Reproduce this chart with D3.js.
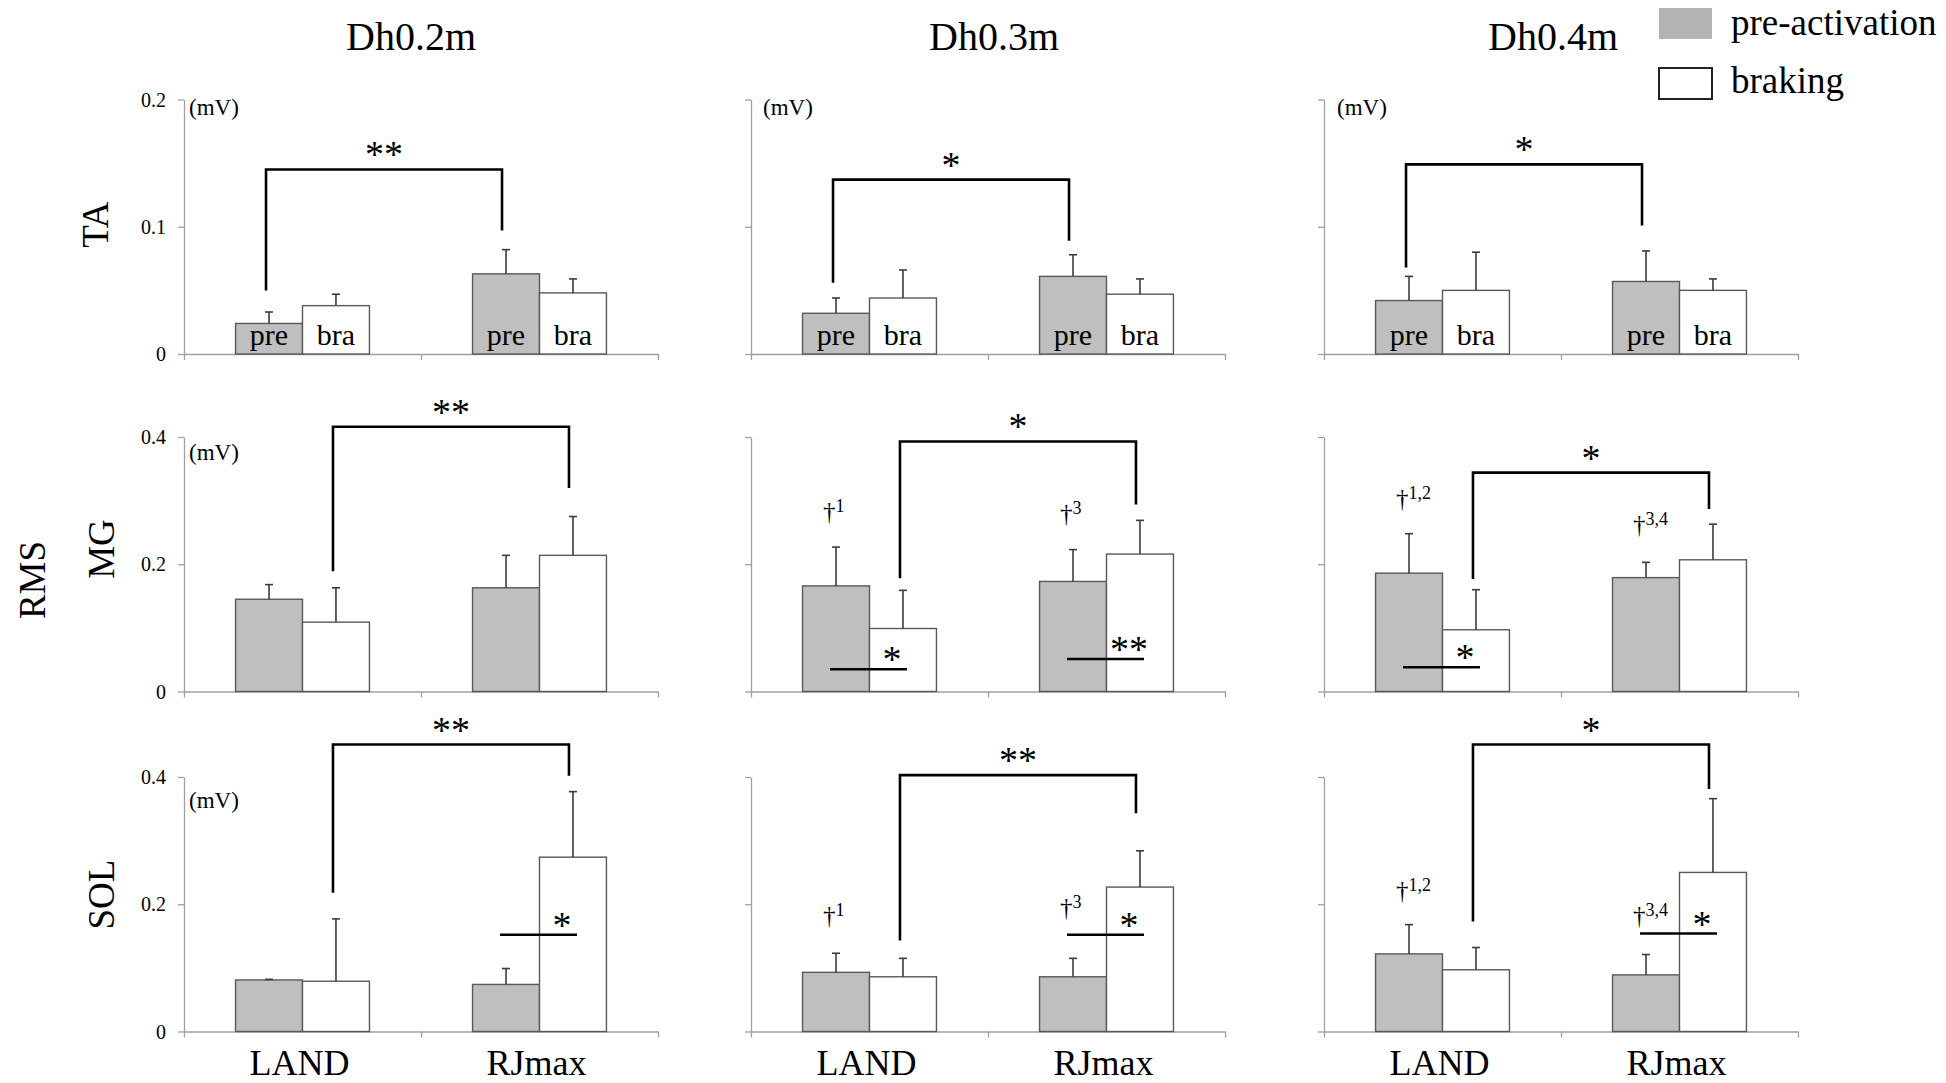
<!DOCTYPE html>
<html>
<head>
<meta charset="utf-8">
<script src="https://cdn.jsdelivr.net/npm/d3@7"></script>
<style>
  body { margin: 0; background: #fff; }
  text { font-family: "Liberation Serif", "Times New Roman", serif; fill: #000; }
</style>
</head>
<body>
<svg id="chart" width="1946" height="1083"></svg>
<script>
// ---- data -------------------------------------------------------------
const heights = ["Dh0.2m", "Dh0.3m", "Dh0.4m"];
const muscles = ["TA", "MG", "SOL"];
const conditions = ["LAND", "RJmax"];
const phases = ["pre-activation", "braking"];
const phaseTags = ["pre", "bra"];
const yMax = [0.2, 0.4, 0.4];
const yTicks = [[0, 0.1, 0.2], [0, 0.2, 0.4], [0, 0.2, 0.4]];
const yTickLabels = [["0", "0.1", "0.2"], ["0", "0.2", "0.4"], ["0", "0.2", "0.4"]];

// mean RMS (mV), one row per drop height: [LAND pre, LAND bra, RJmax pre, RJmax bra]
const taMean  = [[0.024, 0.038, 0.063, 0.048], [0.032, 0.044, 0.061, 0.047], [0.042, 0.050, 0.057, 0.050]];
const taSD    = [[0.009, 0.009, 0.019, 0.011], [0.012, 0.022, 0.017, 0.012], [0.019, 0.030, 0.024, 0.009]];
const mgMean  = [[0.145, 0.109, 0.163, 0.214], [0.166, 0.099, 0.173, 0.216], [0.186, 0.097, 0.179, 0.207]];
const mgSD    = [[0.023, 0.054, 0.051, 0.061], [0.061, 0.060, 0.050, 0.053], [0.062, 0.063, 0.024, 0.056]];
const solMean = [[0.081, 0.079, 0.074, 0.274], [0.093, 0.086, 0.086, 0.227], [0.122, 0.097, 0.089, 0.250]];
const solSD   = [[0.001, 0.098, 0.025, 0.103], [0.030, 0.029, 0.029, 0.057], [0.046, 0.035, 0.032, 0.116]];
const means = [taMean, mgMean, solMean];
const sds = [taSD, mgSD, solSD];

// LAND vs RJmax brackets: phase compared, bar height, left / right leg ends (mV), mark
const taBrackets  = [{ phase: 0, top: 0.145, left: 0.050, right: 0.097, mark: "**" },
                     { phase: 0, top: 0.137, left: 0.056, right: 0.089, mark: "*" },
                     { phase: 0, top: 0.149, left: 0.068, right: 0.101, mark: "*" }];
const mgBrackets  = [{ phase: 1, top: 0.416, left: 0.189, right: 0.320, mark: "**" },
                     { phase: 1, top: 0.393, left: 0.178, right: 0.294, mark: "*" },
                     { phase: 1, top: 0.344, left: 0.177, right: 0.287, mark: "*" }];
const solBrackets = [{ phase: 1, top: 0.451, left: 0.218, right: 0.402, mark: "**" },
                     { phase: 1, top: 0.403, left: 0.143, right: 0.343, mark: "**" },
                     { phase: 1, top: 0.451, left: 0.173, right: 0.381, mark: "*" }];
const brackets = [taBrackets, mgBrackets, solBrackets];

// pre vs braking within a condition: muscle row, height column, condition, line level (mV), mark
const phasePairs = [
  { row: 1, col: 1, cond: 0, level: 0.035, mark: "*" },
  { row: 1, col: 1, cond: 1, level: 0.051, mark: "**" },
  { row: 1, col: 2, cond: 0, level: 0.038, mark: "*" },
  { row: 2, col: 0, cond: 1, level: 0.152, mark: "*" },
  { row: 2, col: 1, cond: 1, level: 0.152, mark: "*" },
  { row: 2, col: 2, cond: 1, level: 0.154, mark: "*" }
];

// dagger notes over the pre-activation bars
const daggers = [
  { row: 1, col: 1, cond: 0, level: 0.280, note: "1" },
  { row: 1, col: 1, cond: 1, level: 0.278, note: "3" },
  { row: 1, col: 2, cond: 0, level: 0.301, note: "1,2" },
  { row: 1, col: 2, cond: 1, level: 0.260, note: "3,4" },
  { row: 2, col: 1, cond: 0, level: 0.180, note: "1" },
  { row: 2, col: 1, cond: 1, level: 0.193, note: "3" },
  { row: 2, col: 2, cond: 0, level: 0.219, note: "1,2" },
  { row: 2, col: 2, cond: 1, level: 0.180, note: "3,4" }
];

// ---- layout -----------------------------------------------------------
const colX = [184, 751, 1324];
const panelW = 474;
const rowTop = [99.5, 437, 777];
const panelH = 254.5;
const unitDy = [7, 15, 23];
const titleShift = [-10, 6, -8];

const svg = d3.select("#chart");
svg.append("rect").attr("width", 1946).attr("height", 1083).attr("fill", "#fff");

const AXIS = "#a0a0a0";
const STAR = 38;
const panels = {};

muscles.forEach((m, r) => {
  heights.forEach((h, c) => {
    const x0 = colX[c], top = rowTop[r], zero = top + panelH;
    const x = d3.scaleBand().domain(conditions).range([x0, x0 + panelW]);
    const xs = d3.scaleBand().domain(phases).range([0, x.bandwidth()]).paddingOuter(0.77);
    const y = d3.scaleLinear().domain([0, yMax[r]]).range([zero, top]);
    panels[r + "-" + c] = { x, xs, y };
    const g = svg.append("g");

    // y axis
    const ya = g.append("g").attr("transform", `translate(${x0},0)`)
      .call(d3.axisLeft(y).tickValues(yTicks[r]).tickSize(6).tickSizeOuter(0)
        .tickFormat((d, i) => c === 0 ? yTickLabels[r][i] : ""));
    ya.selectAll("path, line").attr("stroke", AXIS).attr("stroke-width", 1.3);
    ya.selectAll("text").attr("font-size", 20).attr("font-family", "Liberation Serif")
      .attr("fill", "#000").attr("x", -18).attr("dy", "0.33em");

    // x axis with ticks at the band edges
    const edge = d3.scaleLinear().domain([0, conditions.length]).range([x0, x0 + panelW]);
    const xa = g.append("g").attr("transform", `translate(0,${zero})`)
      .call(d3.axisBottom(edge).tickValues(d3.range(conditions.length + 1)).tickSize(6)
        .tickSizeOuter(0).tickFormat(""));
    xa.selectAll("path, line").attr("stroke", AXIS).attr("stroke-width", 1.3);

    // unit
    if (r === 0 || c === 0) {
      g.append("text").attr("x", x0 + (c === 0 ? 5 : c === 1 ? 12 : 13))
        .attr("y", top + unitDy[r]).attr("dy", "0.35em")
        .attr("font-size", 23).text("(mV)");
    }

    // bars
    const rows = [];
    conditions.forEach((cond, i) => phases.forEach((ph, j) => {
      rows.push({ cond, ph, j, mean: means[r][c][i * 2 + j], sd: sds[r][c][i * 2 + j] });
    }));
    g.selectAll("rect.bar").data(rows).join("rect").attr("class", "bar")
      .attr("x", d => x(d.cond) + xs(d.ph))
      .attr("y", d => y(d.mean))
      .attr("width", xs.bandwidth())
      .attr("height", d => zero - y(d.mean))
      .attr("fill", d => d.j === 0 ? "#bfbfbf" : "#ffffff")
      .attr("stroke", "#595959").attr("stroke-width", 1.4);

    // error bars (upper side)
    const cx = d => x(d.cond) + xs(d.ph) + xs.bandwidth() / 2;
    g.selectAll("line.err").data(rows).join("line").attr("class", "err")
      .attr("x1", cx).attr("x2", cx)
      .attr("y1", d => y(d.mean)).attr("y2", d => y(d.mean + d.sd))
      .attr("stroke", "#3c3c3c").attr("stroke-width", 1.6);
    g.selectAll("line.cap").data(rows).join("line").attr("class", "cap")
      .attr("x1", d => cx(d) - 4).attr("x2", d => cx(d) + 4)
      .attr("y1", d => y(d.mean + d.sd)).attr("y2", d => y(d.mean + d.sd))
      .attr("stroke", "#3c3c3c").attr("stroke-width", 1.6);

    // phase tags inside the TA bars
    if (r === 0) {
      g.selectAll("text.tag").data(rows).join("text").attr("class", "tag")
        .attr("x", cx).attr("y", zero - 9)
        .attr("text-anchor", "middle").attr("font-size", 30)
        .text(d => phaseTags[d.j]);
    }

    // LAND vs RJmax bracket
    const b = brackets[r][c];
    const ph = phases[b.phase];
    const xl = x(conditions[0]) + xs(ph) + xs.bandwidth() / 2 - 3;
    const xr = x(conditions[1]) + xs(ph) + xs.bandwidth() / 2 - 4;
    g.append("path")
      .attr("d", `M${xl},${y(b.left)}V${y(b.top)}H${xr}V${y(b.right)}`)
      .attr("fill", "none").attr("stroke", "#000").attr("stroke-width", 2.6);
    g.append("text").attr("x", (xl + xr) / 2).attr("y", y(b.top) - 2)
      .attr("text-anchor", "middle").attr("font-size", STAR).text(b.mark);
  });
});

// pre vs braking lines
phasePairs.forEach(p => {
  const { x, xs, y } = panels[p.row + "-" + p.col];
  const cond = conditions[p.cond];
  const preC = x(cond) + xs(phases[0]) + xs.bandwidth() / 2;
  const braC = x(cond) + xs(phases[1]) + xs.bandwidth() / 2;
  svg.append("line")
    .attr("x1", preC - 6).attr("x2", braC + 4)
    .attr("y1", y(p.level)).attr("y2", y(p.level))
    .attr("stroke", "#000").attr("stroke-width", 2.6);
  svg.append("text").attr("x", braC - 11).attr("y", y(p.level) + 3)
    .attr("text-anchor", "middle").attr("font-size", STAR).text(p.mark);
});

// dagger notes
daggers.forEach(d => {
  const { x, xs, y } = panels[d.row + "-" + d.col];
  const preC = x(conditions[d.cond]) + xs(phases[0]) + xs.bandwidth() / 2;
  const t = svg.append("text").attr("x", preC - 13).attr("y", y(d.level) + 7);
  t.append("tspan").attr("font-size", 25).text("\u2020");
  t.append("tspan").attr("font-size", 18).attr("dy", -8).text(d.note);
});

// column titles
heights.forEach((h, c) => {
  svg.append("text").attr("x", colX[c] + panelW / 2 + titleShift[c]).attr("y", 50)
    .attr("text-anchor", "middle").attr("font-size", 40).text(h);
});

// category labels under the bottom row
heights.forEach((h, c) => {
  const xc = panels["2-" + c].x;
  conditions.forEach(cond => {
    svg.append("text").attr("x", xc(cond) + xc.bandwidth() / 2 - 3).attr("y", 1075)
      .attr("text-anchor", "middle").attr("font-size", 36).text(cond);
  });
});

// muscle labels and the shared RMS label
const rowLabelY = [224.6, 549, 894.6];
muscles.forEach((m, r) => {
  const lx = r === 0 ? 108 : 114;
  svg.append("text").attr("transform", `translate(${lx},${rowLabelY[r]}) rotate(-90)`)
    .attr("text-anchor", "middle").attr("font-size", 37).text(m);
});
svg.append("text").attr("transform", "translate(45,580) rotate(-90)")
  .attr("text-anchor", "middle").attr("font-size", 37).text("RMS");

// legend
const legend = svg.append("g");
legend.append("rect").attr("x", 1659).attr("y", 8).attr("width", 53).attr("height", 31)
  .attr("fill", "#b3b3b3");
legend.append("rect").attr("x", 1659).attr("y", 68).attr("width", 53).attr("height", 31)
  .attr("fill", "#fff").attr("stroke", "#222").attr("stroke-width", 2);
legend.append("text").attr("x", 1731).attr("y", 35).attr("font-size", 37).text(phases[0]);
legend.append("text").attr("x", 1731).attr("y", 93).attr("font-size", 37).text(phases[1]);
</script>
</body>
</html>
